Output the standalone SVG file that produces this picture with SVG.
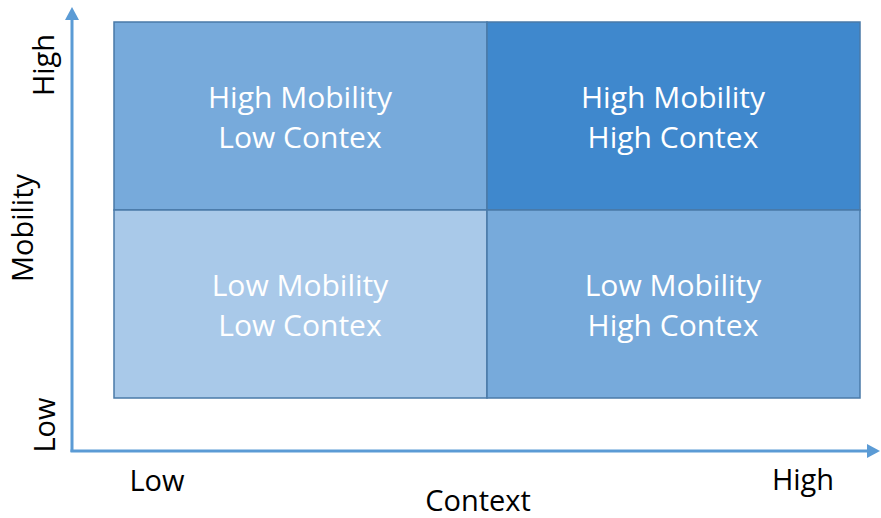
<svg xmlns="http://www.w3.org/2000/svg" width="881" height="518" viewBox="0 0 881 518">
<style>
.cell{stroke:#4a7aa8;stroke-width:1.5}
.ct{font-family:"Open Sans","Liberation Sans",sans-serif;font-size:30px;fill:#ffffff;text-anchor:middle}
.ax{font-family:"Open Sans","Liberation Sans",sans-serif;font-size:29px;fill:#000000;text-anchor:middle}
.axis{stroke:#5b9bd5;stroke-width:3;fill:none}
</style>
<defs>
<marker id="ah" viewBox="0 0 13 14" refX="0" refY="7" markerWidth="13" markerHeight="14" orient="auto" markerUnits="userSpaceOnUse">
<path d="M0,0 L13,7 L0,14 z" fill="#5b9bd5"/>
</marker>
</defs>
<rect width="881" height="518" fill="#ffffff"/>
<g id="connectors">
<path class="axis" d="M72,452 L72,20" marker-end="url(#ah)"/>
<path class="axis" d="M70.5,451 L867,451" marker-end="url(#ah)"/>
</g>
<g id="tl">
<rect class="cell" x="114" y="22" width="373" height="188" fill="#77aadb"/>
<text class="ct" x="300" y="108">High Mobility</text>
<text class="ct" x="300" y="148">Low Contex</text>
</g>
<g id="tr">
<rect class="cell" x="487" y="22" width="373" height="188" fill="#3f88cd"/>
<text class="ct" x="673" y="108">High Mobility</text>
<text class="ct" x="673" y="148">High Contex</text>
</g>
<g id="bl">
<rect class="cell" x="114" y="210" width="373" height="188" fill="#a9c9e9"/>
<text class="ct" x="300" y="296">Low Mobility</text>
<text class="ct" x="300" y="336">Low Contex</text>
</g>
<g id="br">
<rect class="cell" x="487" y="210" width="373" height="188" fill="#77aadb"/>
<text class="ct" x="673" y="296">Low Mobility</text>
<text class="ct" x="673" y="336">High Contex</text>
</g>
<g id="labels">
<text class="ax" x="157" y="491">Low</text>
<text class="ax" x="803" y="490">High</text>
<text class="ax" x="478" y="511">Context</text>
<text class="ax" transform="translate(33,228) rotate(-90)">Mobility</text>
<text class="ax" transform="translate(54,65) rotate(-90)">High</text>
<text class="ax" transform="translate(55,425) rotate(-90)">Low</text>
</g>
</svg>
